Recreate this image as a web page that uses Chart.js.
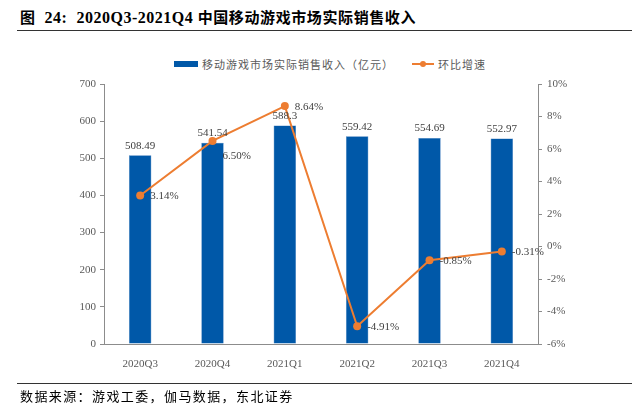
<!DOCTYPE html>
<html>
<head>
<meta charset="utf-8">
<script src="https://cdn.jsdelivr.net/npm/chart.js@4"></script>
<style>
  body { margin: 0; background: #fff; }
  #wrap { position: relative; width: 632px; height: 410px; overflow: hidden; }
  #myChart { position: absolute; left: 0; top: 0; }
  .title { position: absolute; left: 20px; top: 6px; font-weight: bold; color: #000; white-space: nowrap; }
  .title .lat { font: bold 16px "Liberation Serif", serif; letter-spacing: 0.5px; }
  .title .cjk { font: bold 15px "Noto Sans CJK SC", sans-serif; letter-spacing: 0.6px; }
  .rule { position: absolute; left: 17px; right: 0; height: 1px; background: #333; }
  .legend { position: absolute; top: 54px; left: 174px; font: 11px "Noto Sans CJK SC", sans-serif; letter-spacing: 1px; color: #595959; white-space: nowrap; }
  .legend span { display: inline-block; vertical-align: middle; }
  .swatch { width: 24px; height: 6px; margin-right: 4px; }
  .lineKey { position: relative; width: 22px; height: 2px; margin: 0 4px 0 18px; }
  .lineKey i { position: absolute; left: 8px; top: -2px; width: 6px; height: 6px; border-radius: 50%; }
  .source { position: absolute; left: 20px; top: 386px; font: 13px "Noto Sans CJK SC", sans-serif; letter-spacing: 1.4px; color: #000; white-space: nowrap; }
</style>
</head>
<body>
<div id="wrap">
  <div class="title"><span class="cjk">图</span><span class="lat">&nbsp;&nbsp;24:&nbsp;&nbsp;2020Q3-2021Q4 </span><span class="cjk">中国移动游戏市场实际销售收入</span></div>
  <div class="rule" style="top:30px"></div>
  <div class="legend" id="legend"></div>
  <canvas id="myChart" width="632" height="410"></canvas>
  <div class="rule" style="top:383px"></div>
  <div class="source">数据来源：游戏工委，伽马数据，东北证券</div>
</div>
<script>
'use strict';

let quarters = ['2020Q3', '2020Q4', '2021Q1', '2021Q2', '2021Q3', '2021Q4'];
let revenue = [508.49, 541.54, 588.3, 559.42, 554.69, 552.97];
let growth = [3.14, 6.50, 8.64, -4.91, -0.85, -0.31];

let revenueName = '移动游戏市场实际销售收入（亿元）';
let growthName = '环比增速';

let barBlue = '#0058a8';
let lineOrange = '#ed7d31';
let labelGrey = '#404040';
let axisGrey = '#8c8c8c';

// legend in html
let legend = document.getElementById('legend');
legend.innerHTML =
  `<span class="swatch" style="background:${barBlue}"></span><span>${revenueName}</span>` +
  `<span class="lineKey" style="background:${lineOrange}"><i style="background:${lineOrange}"></i></span><span>${growthName}</span>`;

// value labels, drawn from the element positions
let valueLabels = {
  id: 'valueLabels',
  afterDatasetsDraw(chart) {
    let ctx = chart.ctx;
    ctx.save();
    ctx.font = '11px "Liberation Serif", serif';
    ctx.fillStyle = labelGrey;

    let bars = chart.getDatasetMeta(0).data;
    ctx.textAlign = 'center';
    ctx.textBaseline = 'bottom';
    for (let i = 0; i < bars.length; i++) {
      ctx.fillText(String(revenue[i]), bars[i].x, bars[i].y - 4);
    }

    let points = chart.getDatasetMeta(1).data;
    ctx.textAlign = 'left';
    ctx.textBaseline = 'middle';
    for (let i = 0; i < points.length; i++) {
      let dy = i === 1 ? 15 : 1;
      ctx.fillText(growth[i].toFixed(2) + '%', points[i].x + 10, points[i].y + dy);
    }
    ctx.restore();
  }
};

const data = {
  labels: quarters,
  datasets: [
    {
      type: 'bar',
      label: revenueName,
      data: revenue,
      backgroundColor: barBlue,
      borderColor: '#3b78bb',
      borderWidth: 0.5,
      barPercentage: 0.31,
      categoryPercentage: 1,
      yAxisID: 'y',
      order: 1
    },
    {
      type: 'line',
      label: growthName,
      data: growth,
      borderColor: lineOrange,
      backgroundColor: lineOrange,
      borderWidth: 2,
      pointRadius: 4,
      pointBackgroundColor: lineOrange,
      pointBorderWidth: 0,
      tension: 0,
      yAxisID: 'y1',
      order: 0
    }
  ]
};

const config = {
  type: 'bar',
  data: data,
  options: {
    responsive: false,
    animation: false,
    layout: {
      padding: { left: 54, right: 44, top: 84, bottom: 36 }
    },
    plugins: {
      legend: { display: false },
      tooltip: { enabled: false }
    },
    scales: {
      x: {
        grid: { display: false },
        border: { display: true, color: axisGrey },
        ticks: {
          color: '#595959',
          padding: 6,
          font: { family: '"Liberation Serif", serif', size: 11 }
        },
        afterFit(s) { s.height = 30; }
      },
      y: {
        position: 'left',
        min: 0,
        max: 700,
        ticks: {
          stepSize: 100,
          color: '#595959',
          padding: 4,
          font: { family: '"Liberation Serif", serif', size: 11 }
        },
        grid: { drawOnChartArea: false, drawTicks: true, tickLength: 4, color: axisGrey },
        border: { color: axisGrey },
        afterFit(s) { s.width = 50; }
      },
      y1: {
        position: 'right',
        min: -6,
        max: 10,
        ticks: {
          stepSize: 2,
          color: '#595959',
          padding: 5,
          font: { family: '"Liberation Serif", serif', size: 11 },
          callback: function (v) { return v + '%'; }
        },
        grid: { drawOnChartArea: false, drawTicks: true, tickLength: 4, color: axisGrey },
        border: { color: axisGrey },
        afterFit(s) { s.width = 50; }
      }
    }
  },
  plugins: [valueLabels]
};

const myChart = new Chart(document.getElementById('myChart'), config);
</script>
</body>
</html>
